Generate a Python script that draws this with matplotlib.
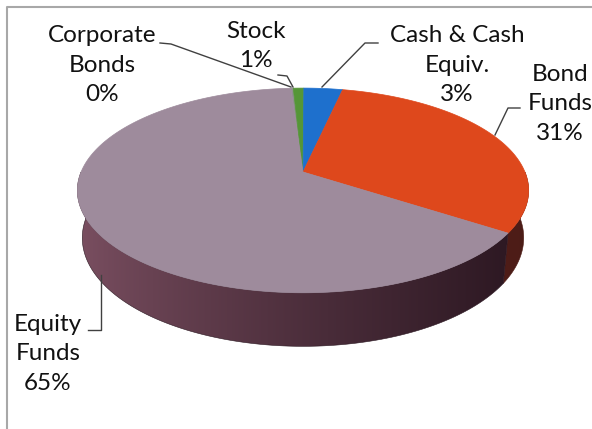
import numpy as np
import matplotlib.pyplot as plt
from matplotlib.patches import Polygon

# datos del grafico
categorias = ["Corporate\nBonds", "Stock", "Cash & Cash\nEquiv.", "Bond\nFunds", "Equity\nFunds"]
valores = [0.2, 0.9, 3.3, 31.0, 64.6]
etiquetas_pct = ["0%", "1%", "3%", "31%", "65%"]
colores_top = ["#8f8f8f", "#559637", "#1e70cd", "#de481c", "#9e8b9c"]
colores_lado_claro = [(0.45, 0.45, 0.45), (0.30, 0.50, 0.20), (0.10, 0.30, 0.60), (0.50, 0.18, 0.13), (0.48, 0.31, 0.38)]
colores_lado_oscuro = [(0.25, 0.25, 0.25), (0.15, 0.30, 0.10), (0.05, 0.15, 0.35), (0.30, 0.11, 0.09), (0.17, 0.09, 0.13)]

# proyeccion en perspectiva del disco
cx, cy = 303, 172
f = 1103.0
D = 4.97
phi = np.radians(26.5)
s, c = np.sin(phi), np.cos(phi)
h = 0.24
angulo_inicio = -3.7
rx = f / D


def proyectar(theta_deg, r=1.0, z=0.0):
    th = np.radians(theta_deg)
    X = r * np.sin(th)
    Y = r * np.cos(th)
    prof = D + Y * c - z * s
    arriba = Y * s + z * c
    return cx + f * X / prof, cy - f * arriba / prof


fig = plt.figure(figsize=(5.92, 4.29), dpi=100)
ax = fig.add_axes([0, 0, 1, 1])
ax.set_xlim(0, 592)
ax.set_ylim(429, 0)
ax.set_axis_off()

# marco
ax.plot([7, 7, 592], [429, 7, 7], color="#a8a8a8", lw=1.5)

total = sum(valores)
limites = [angulo_inicio]
for v in valores:
    limites.append(limites[-1] + 360 * v / total)

# degradado horizontal para las paredes
xs_pix = np.arange(0, 592) + 0.5
u = np.clip(((xs_pix - cx) / rx + 1) / 2, 0, 1) ** 0.8

# paredes laterales (solo la parte delantera se ve)
for i in range(len(valores)):
    a0, a1 = limites[i], limites[i + 1]
    a0c, a1c = max(a0, 90), min(a1, 270)
    if a1c <= a0c:
        continue
    ts = np.linspace(a0c, a1c, max(2, int((a1c - a0c) / 0.5)) + 1)
    arriba_pts = [proyectar(t) for t in ts]
    abajo_pts = [proyectar(t, z=-h) for t in ts[::-1]]
    pared = Polygon(arriba_pts + abajo_pts, closed=True, facecolor="none", edgecolor="none")
    ax.add_patch(pared)
    claro = np.array(colores_lado_claro[i])
    oscuro = np.array(colores_lado_oscuro[i])
    img = (1 - u)[None, :, None] * claro + u[None, :, None] * oscuro
    im = ax.imshow(img, extent=(0, 592, 429, 0), aspect="auto", interpolation="bilinear", zorder=1)
    im.set_clip_path(pared)
    ax.add_patch(Polygon(arriba_pts + abajo_pts, closed=True, facecolor="none",
                         edgecolor=tuple(oscuro), lw=0.4, zorder=1))

ax.set_xlim(0, 592)
ax.set_ylim(429, 0)

# caras superiores
for i in range(len(valores)):
    a0, a1 = limites[i], limites[i + 1]
    ts = np.linspace(a0, a1, max(2, int((a1 - a0) / 0.5)) + 1)
    verts = [(cx, cy)] + [proyectar(t) for t in ts]
    ax.add_patch(Polygon(verts, closed=True, facecolor=colores_top[i], edgecolor=colores_top[i],
                         lw=0.5, zorder=2))

# etiquetas
pos_etiquetas = [(102, 65), (256, 46), (457, 65), (560, 104), (48, 354)]
for i, (x, y) in enumerate(pos_etiquetas):
    ax.text(x, y, categorias[i] + "\n" + etiquetas_pct[i], ha="center", va="center",
            fontsize=17.5, family="Lato", color="#111111", linespacing=1.5, zorder=3)

# lineas guia
guias = [
    [(160, 43), (171, 44), (291, 87)],
    [(278, 75), (287, 76), (293, 87)],
    [(378, 43), (365, 43), (322, 87)],
    [(520, 108), (508, 108), (495, 135)],
    [(88, 330), (101, 330), (101, 275)],
]
for g in guias:
    xs, ys = zip(*g)
    ax.plot(xs, ys, color="#404040", lw=1.0, zorder=3)

plt.savefig("out.png", dpi=100)
